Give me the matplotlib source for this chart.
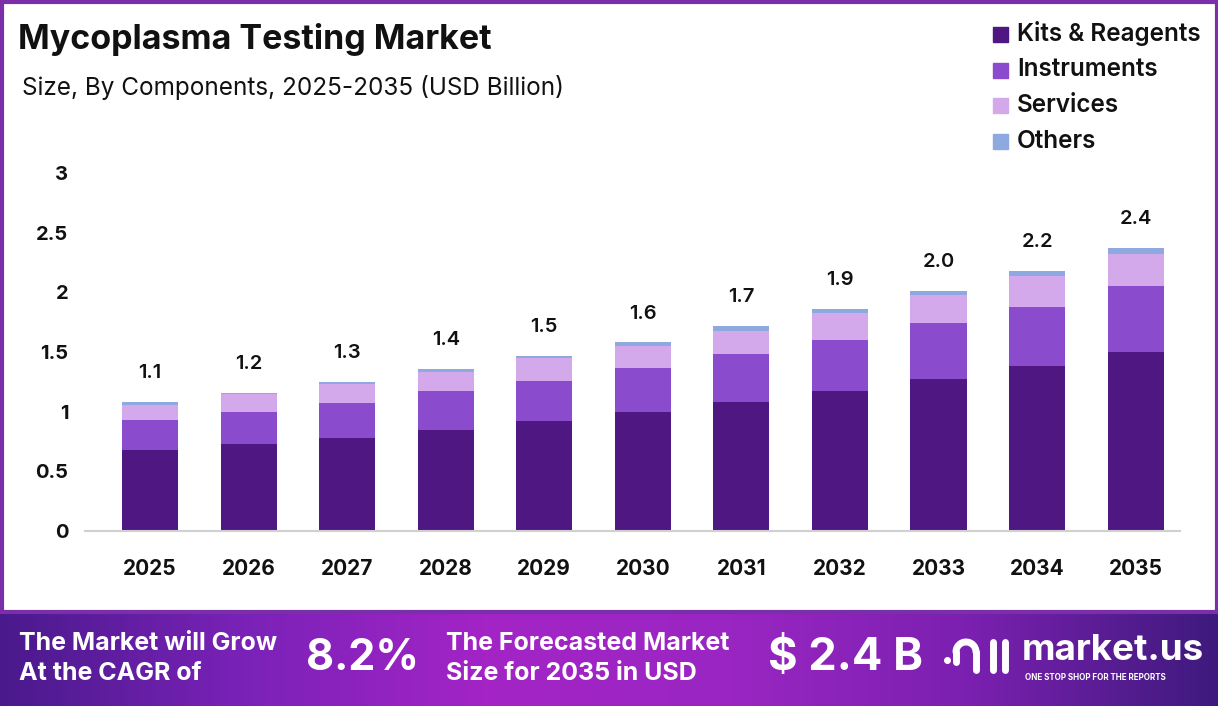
import matplotlib
matplotlib.use("Agg")
import matplotlib.pyplot as plt
import numpy as np
from matplotlib.patches import Rectangle
from matplotlib.colors import LinearSegmentedColormap

plt.rcParams['font.family'] = ['Inter', 'DejaVu Sans']

years = ['2025', '2026', '2027', '2028', '2029', '2030', '2031', '2032', '2033', '2034', '2035']
kits = [0.68, 0.73, 0.78, 0.85, 0.92, 1.00, 1.08, 1.17, 1.27, 1.38, 1.50]
instruments = [0.25, 0.27, 0.29, 0.32, 0.34, 0.37, 0.40, 0.43, 0.47, 0.50, 0.55]
services = [0.13, 0.145, 0.16, 0.165, 0.19, 0.18, 0.20, 0.23, 0.24, 0.26, 0.27]
others = [0.02, 0.015, 0.02, 0.025, 0.02, 0.03, 0.04, 0.03, 0.03, 0.04, 0.05]
total_labels = ['1.1', '1.2', '1.3', '1.4', '1.5', '1.6', '1.7', '1.9', '2.0', '2.2', '2.4']
series_names = ['Kits & Reagents', 'Instruments', 'Services', 'Others']
colors = ['#4e1782', '#8a4ccc', '#d3a9ec', '#8ea9df']
yticks = [0, 0.5, 1, 1.5, 2, 2.5, 3]
ytick_labels = ['0', '0.5', '1', '1.5', '2', '2.5', '3']

W, H = 1218, 706
fig = plt.figure(figsize=(W / 100, H / 100), dpi=100)
fig.patch.set_facecolor('white')

# main axes
ax = fig.add_axes([85 / W, (H - 531) / H, (1180 - 85) / W, 358 / H])
x = np.arange(len(years))
series = [kits, instruments, services, others]
bottom = np.zeros(len(years))
for vals, col, name in zip(series, colors, series_names):
    ax.bar(x, vals, width=0.57, bottom=bottom, color=col, label=name, linewidth=0)
    bottom += np.array(vals)
for xi, tot, lab in zip(x, bottom, total_labels):
    ax.text(xi, tot + 0.165, lab, ha='center', va='bottom', fontsize=14.5,
            fontweight='semibold', color='#111111')

ax.set_xlim(-0.66, 10.45)
ax.set_ylim(0, 3)
ax.set_xticks(x)
ax.set_xticklabels(years, fontsize=15, fontweight='bold', color='#111111')
ax.set_yticks(yticks)
ax.set_yticklabels(ytick_labels, fontsize=14.5, fontweight='bold', color='#111111')
ax.tick_params(axis='both', length=0)
ax.tick_params(axis='x', pad=20)
ax.tick_params(axis='y', pad=12)
for s in ['top', 'right', 'left']:
    ax.spines[s].set_visible(False)
ax.spines['bottom'].set_color('#d0d0d0')
ax.spines['bottom'].set_linewidth(1.5)
ax.patch.set_alpha(0)

# titles
fig.text(18 / W, 1 - 39 / H, 'Mycoplasma Testing Market', fontsize=24.5, fontweight='bold',
         color='#111111', va='center', ha='left')
fig.text(22 / W, 1 - 88 / H, 'Size, By Components, 2025-2035 (USD Billion)', fontsize=17.5,
         color='#111111', va='center', ha='left')

# legend
leg_y = [34, 70, 105, 141]
for name, col, yy in zip(series_names, colors, leg_y):
    fig.patches.append(Rectangle((993 / W, 1 - (yy + 8) / H), 15 / W, 15 / H,
                                 transform=fig.transFigure, color=col, figure=fig))
    fig.text(1017 / W, 1 - yy / H, name, fontsize=17.5, fontweight='semibold',
             color='#111111', va='center', ha='left')

# banner
bax = fig.add_axes([0, 0, 1, 94 / H])
cmap = LinearSegmentedColormap.from_list('b', ['#4a1a8c', '#7a22b8', '#a424c6', '#9a26c2', '#7a20b0', '#3e1a7c'])
grad = np.linspace(0, 1, 512).reshape(1, -1)
bax.imshow(grad, aspect='auto', cmap=cmap, extent=[0, 1, 0, 1])
bax.set_xlim(0, 1)
bax.set_ylim(0, 1)
bax.axis('off')

def by(py):
    return (706 - py) / 94

bax.text(19 / W, by(643), 'The Market will Grow', color='white', fontsize=18, fontweight='bold', va='center')
bax.text(19 / W, by(673), 'At the CAGR of', color='white', fontsize=18, fontweight='bold', va='center')
bax.text(306 / W, by(658), '8.2%', color='white', fontsize=31, fontweight='bold', va='center')
bax.text(446 / W, by(643), 'The Forecasted Market', color='white', fontsize=18, fontweight='bold', va='center')
bax.text(446 / W, by(673), 'Size for 2035 in USD', color='white', fontsize=18, fontweight='bold', va='center')
bax.text(768 / W, by(658), '$ 2.4 B', color='white', fontsize=32.5, fontweight='bold', va='center')
bax.text(1022 / W, by(651), 'market.us', color='white', fontsize=26.5, fontweight='bold', va='center')
bax.text(1025 / W, by(678), 'ONE STOP SHOP FOR THE REPORTS', color='white', fontsize=5.8,
         fontweight='bold', va='center')

# simple logo icon
t = np.linspace(np.pi, 0, 50)
bax.plot((966 + 10 * np.cos(t)) / W, by(652 - 10 * np.sin(t)), color='white', lw=5, solid_capstyle='round')
bax.plot([956 / W, 956 / W], [by(652), by(662)], color='white', lw=5, solid_capstyle='round')
bax.plot([976 / W, 976 / W], [by(652), by(670)], color='white', lw=5, solid_capstyle='round')
bax.plot([993 / W, 993 / W], [by(642), by(670)], color='white', lw=5, solid_capstyle='round')
bax.plot([1005 / W, 1005 / W], [by(642), by(670)], color='white', lw=5, solid_capstyle='round')
bax.plot([947 / W], [by(660)], marker='o', color='white', ms=4)

# frame
fig.patches.append(Rectangle((1.5 / W, 94 / H), 1 - 3 / W, 1 - 94 / H - 1.5 / H,
                             transform=fig.transFigure, fill=False, edgecolor='#7a2ea8',
                             linewidth=3, figure=fig))

fig.savefig('out.png', dpi=100, facecolor='white')
